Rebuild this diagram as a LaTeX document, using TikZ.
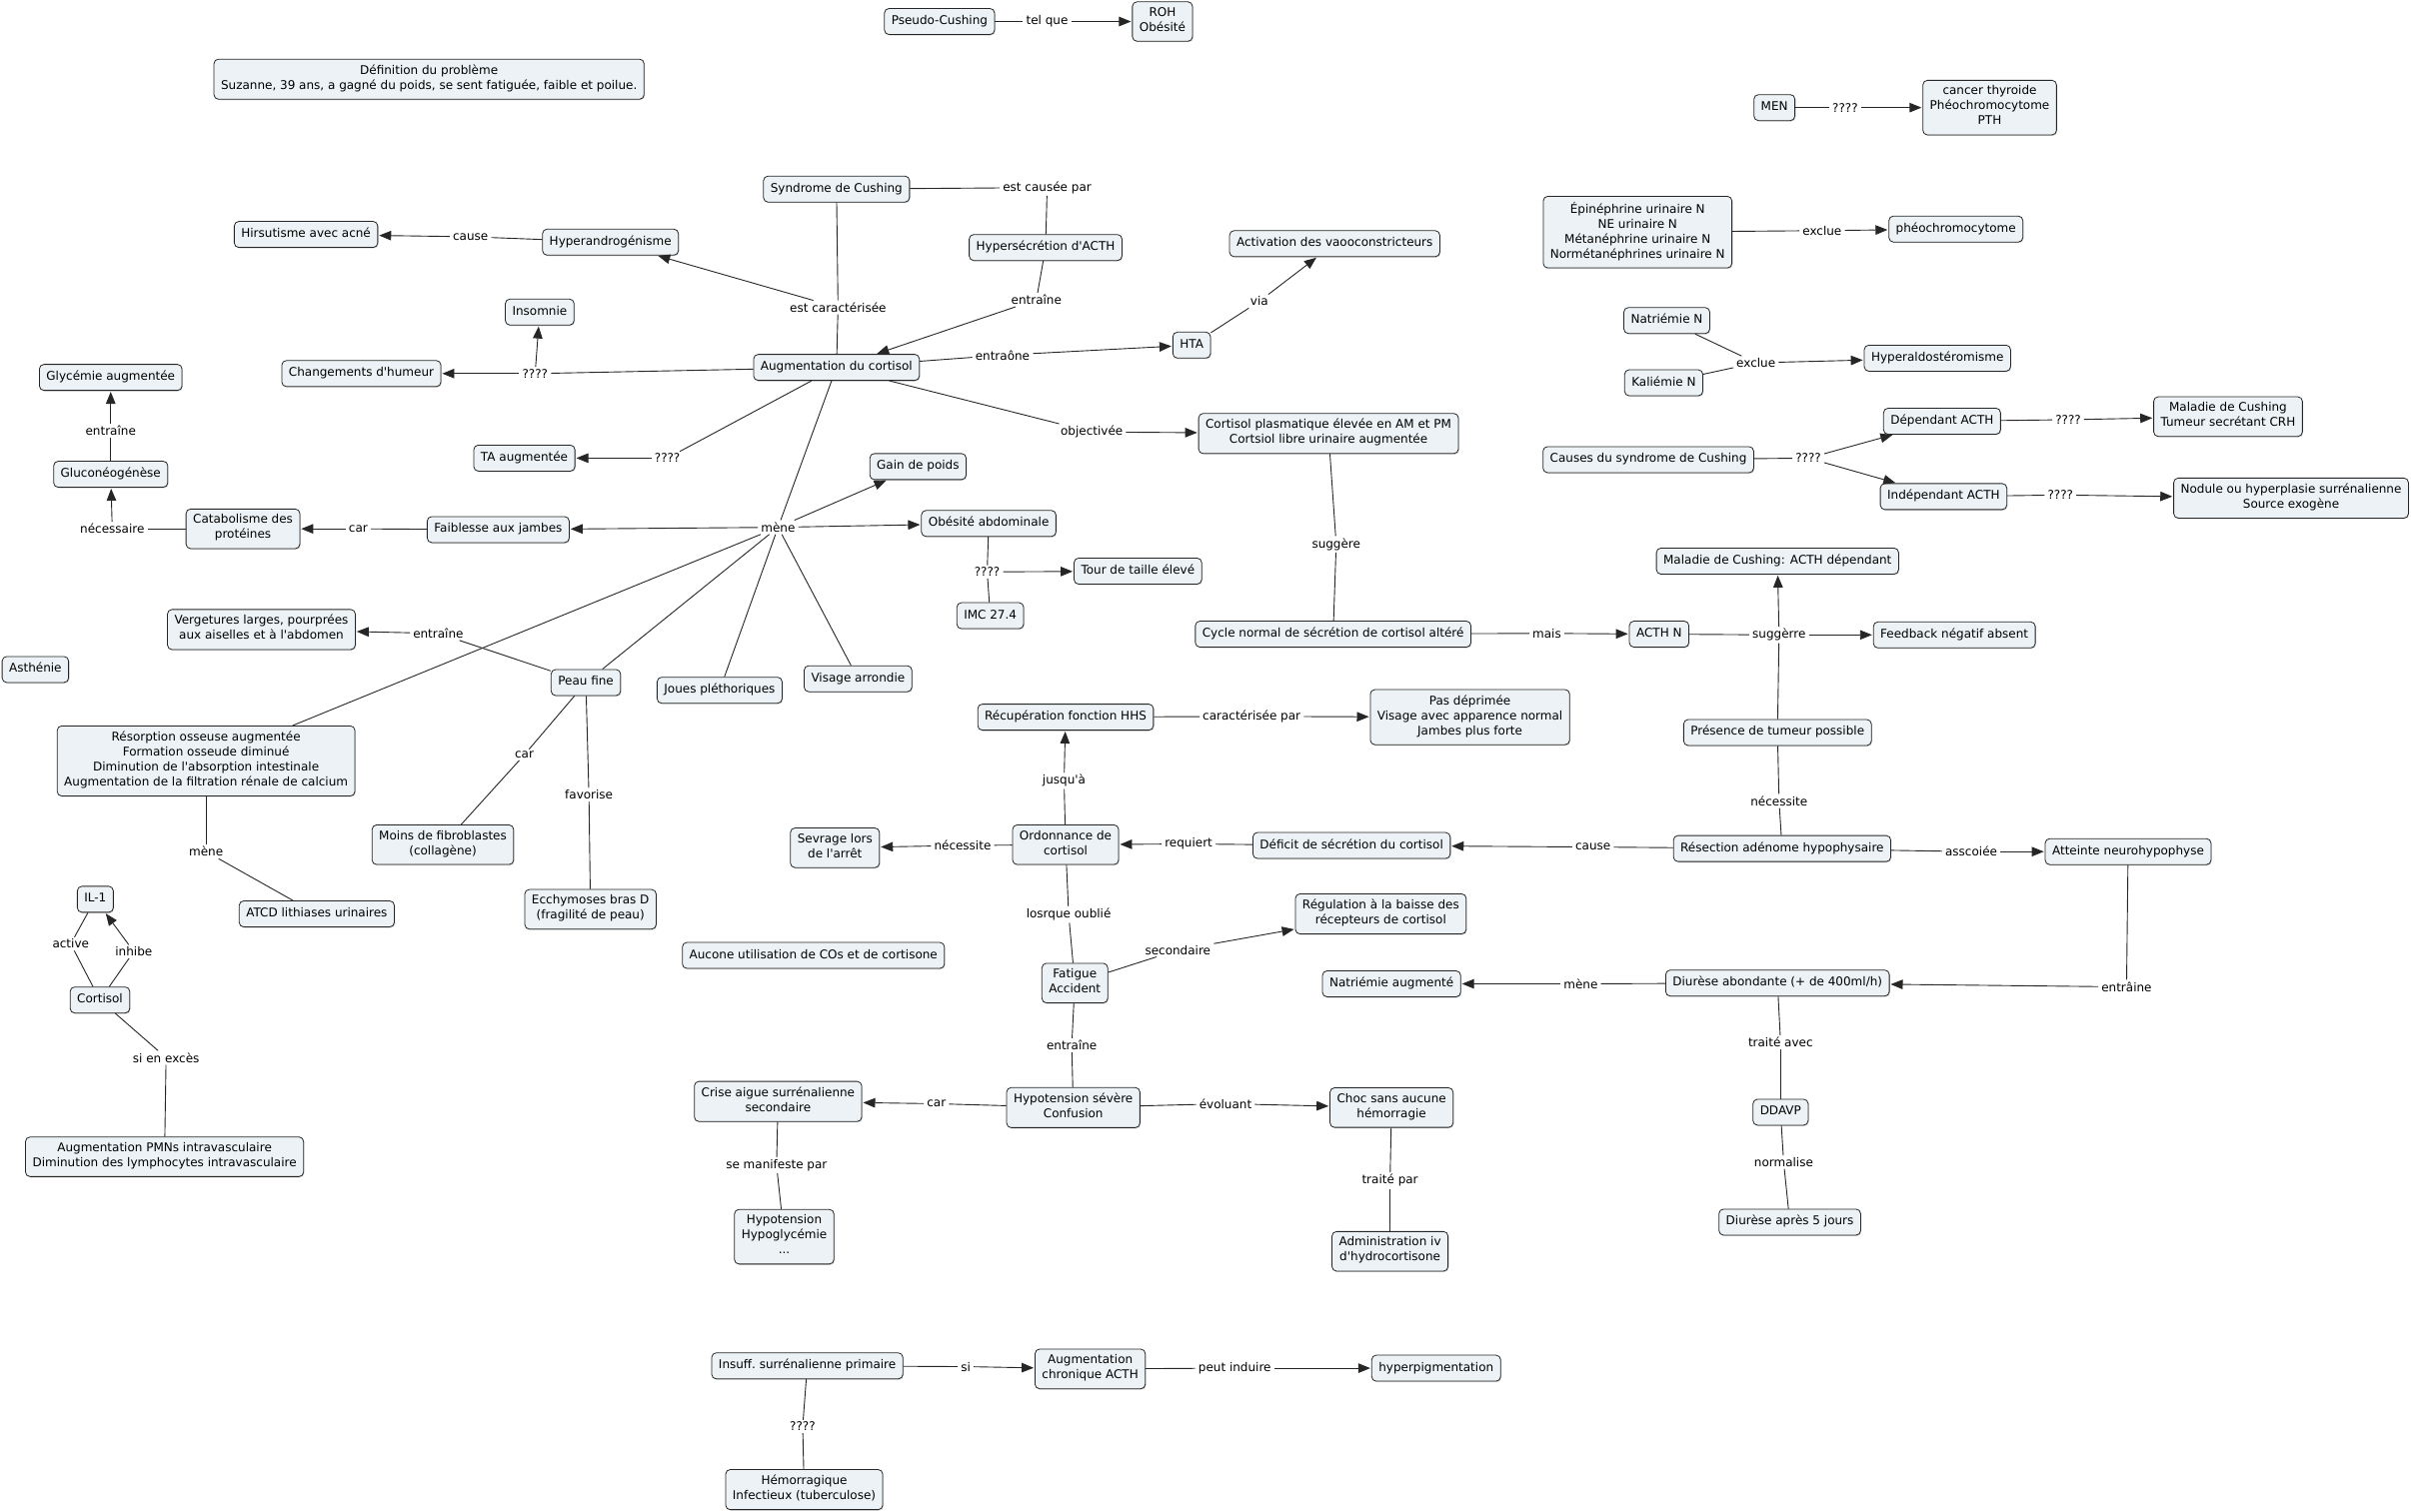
\documentclass[tikz,border=0pt]{standalone}
\usepackage{fontspec}
\newfontfamily\cmfont{DejaVu Sans}
\usetikzlibrary{arrows.meta,shadows}
\definecolor{boxfill}{RGB}{236,242,245}
\newcommand\ap{\textquotesingle}
\begin{document}
\begin{tikzpicture}[x=1.5383pt,y=-1.5383pt,
  concept/.style={draw=black!85, line width=0.8pt, rounded corners=4.5pt, fill=boxfill, align=center,
    inner xsep=7pt, inner ysep=5.5pt, font=\cmfont\fontsize{12}{15}\selectfont,
    execute at begin node=\strut, execute at end node=\strut,
    drop shadow={shadow xshift=0.8pt, shadow yshift=-1pt, opacity=0.35}},
  lbl/.style={fill=white, inner xsep=3pt, inner ysep=2pt, font=\cmfont\fontsize{12}{15}\selectfont},
  link/.style={draw=black!85, line width=0.9pt},
  arr/.style={link, -{Triangle[length=12pt,width=9.5pt]}, shorten >=1pt}]
\useasboundingbox (0,0) rectangle (1568,983.55);
\fill[white] (0,0) rectangle (1568,983.55);
% ---------- concepts ----------
\node[concept] (pseudo) at (611,14) {Pseudo-Cushing};
\node[concept] (roh) at (756,14) {ROH\\Obésité};
\node[concept] (def) at (279,51.5) {Définition du problème\\Suzanne, 39 ans, a gagné du poids, se sent fatiguée, faible et poilue.};
\node[concept] (men) at (1154,70) {MEN};
\node[concept] (cancer) at (1294,70) {cancer thyroide\\Phéochromocytome\\PTH};
\node[concept] (syn) at (544,123) {Syndrome de Cushing};
\node[concept] (hacth) at (680,161) {Hypersécrétion d\ap{}ACTH};
\node[concept] (hirs) at (199,152.5) {Hirsutisme avec acné};
\node[concept] (handro) at (397,157.5) {Hyperandrogénisme};
\node[concept] (activ) at (868,158.5) {Activation des vaooconstricteurs};
\node[concept] (insom) at (351,203) {Insomnie};
\node[concept] (glyc) at (72,245.5) {Glycémie augmentée};
\node[concept] (humeur) at (235,243) {Changements d\ap{}humeur};
\node[concept] (aug) at (544,239) {Augmentation du cortisol};
\node[concept] (hta) at (775,224.5) {HTA};
\node[concept] (gluco) at (72,308.5) {Gluconéogénèse};
\node[concept] (ta) at (341,298) {TA augmentée};
\node[concept] (cortplas) at (864,282) {Cortisol plasmatique élevée en AM et PM\\Cortsiol libre urinaire augmentée};
\node[concept] (gain) at (597,303.5) {Gain de poids};
\node[concept] (catab) at (158,344) {Catabolisme des\\protéines};
\node[concept] (faib) at (324,344.5) {Faiblesse aux jambes};
\node[concept] (obes) at (643,340.5) {Obésité abdominale};
\node[concept] (tour) at (740,371.5) {Tour de taille élevé};
\node[concept] (imc) at (644,400.5) {IMC 27.4};
\node[concept] (maladie) at (1156,365) {Maladie de Cushing: ACTH dépendant};
\node[concept] (dep) at (1263,274) {Dépendant ACTH};
\node[concept] (malcrh) at (1449,271) {Maladie de Cushing\\Tumeur secrétant CRH};
\node[concept] (causes) at (1072,299) {Causes du syndrome de Cushing};
\node[concept] (indep) at (1264,323) {Indépendant ACTH};
\node[concept] (nodule) at (1490,324) {Nodule ou hyperplasie surrénalienne\\Source exogène};
\node[concept] (epi) at (1065,151) {Épinéphrine urinaire N\\NE urinaire N\\Métanéphrine urinaire N\\Normétanéphrines urinaire N};
\node[concept] (pheo) at (1272,149) {phéochromocytome};
\node[concept] (natn) at (1084,208.5) {Natriémie N};
\node[concept] (kaln) at (1082,249) {Kaliémie N};
\node[concept] (aldo) at (1260,233) {Hyperaldostéromisme};
\node[concept] (verg) at (170,409.5) {Vergetures larges, pourprées\\aux aiselles et à l\ap{}abdomen};
\node[concept] (peau) at (381,444) {Peau fine};
\node[concept] (joues) at (468,449) {Joues pléthoriques};
\node[concept] (visage) at (558,441.5) {Visage arrondie};
\node[concept] (asth) at (23,435.5) {Asthénie};
\node[concept] (cycle) at (867,412.5) {Cycle normal de sécrétion de cortisol altéré};
\node[concept] (acthn) at (1079,412.5) {ACTH N};
\node[concept] (feedback) at (1271,413) {Feedback négatif absent};
\node[concept] (recup) at (693,466.5) {Récupération fonction HHS};
\node[concept] (pasdep) at (956,466.5) {Pas déprimée\\Visage avec apparence normal\\Jambes plus forte};
\node[concept] (tumeur) at (1156,476.5) {Présence de tumeur possible};
\node[concept] (resorp) at (134,495) {Résorption osseuse augmentée\\Formation osseude diminué\\Diminution de l\ap{}absorption intestinale\\Augmentation de la filtration rénale de calcium};
\node[concept] (fibro) at (288,549.5) {Moins de fibroblastes\\(collagène)};
\node[concept] (ecchy) at (384,591.5) {Ecchymoses bras D\\(fragilité de peau)};
\node[concept] (atcd) at (206,594.5) {ATCD lithiases urinaires};
\node[concept] (sevrage) at (543,551.5) {Sevrage lors\\de l\ap{}arrêt};
\node[concept] (ordo) at (693,549.5) {Ordonnance de\\cortisol};
\node[concept] (deficit) at (879,550) {Déficit de sécrétion du cortisol};
\node[concept] (resec) at (1159,552) {Résection adénome hypophysaire};
\node[concept] (atteinte) at (1384,554) {Atteinte neurohypophyse};
\node[concept] (il1) at (62,585) {IL-1};
\node[concept] (aucone) at (529,621.5) {Aucone utilisation de COs et de cortisone};
\node[concept] (regul) at (898,594.5) {Régulation à la baisse des\\récepteurs de cortisol};
\node[concept] (fatigue) at (699,639.5) {Fatigue\\Accident};
\node[concept] (cortisol) at (65,650.5) {Cortisol};
\node[concept] (natraug) at (905,640) {Natriémie augmenté};
\node[concept] (diurese) at (1156,639.5) {Diurèse abondante (+ de 400ml/h)};
\node[concept] (pmn) at (107,752.5) {Augmentation PMNs intravasculaire\\Diminution des lymphocytes intravasculaire};
\node[concept] (crise) at (506,716.5) {Crise aigue surrénalienne\\secondaire};
\node[concept] (hypot) at (698,720.5) {Hypotension sévère\\Confusion};
\node[concept] (choc) at (905,720.5) {Choc sans aucune\\hémorragie};
\node[concept] (ddavp) at (1158,723.5) {DDAVP};
\node[concept] (hypogly) at (510,804.5) {Hypotension\\Hypoglycémie\\...};
\node[concept] (admin) at (904,814) {Administration iv\\d\ap{}hydrocortisone};
\node[concept] (diur5) at (1164,795) {Diurèse après 5 jours};
\node[concept] (insuff) at (525,888.5) {Insuff.\ surrénalienne primaire};
\node[concept] (augchr) at (709,890.5) {Augmentation\\chronique ACTH};
\node[concept] (hyperpig) at (934,890) {hyperpigmentation};
\node[concept] (hemo) at (523,969) {Hémorragique\\Infectieux (tuberculose)};
% ---------- linking phrases ----------
\node[lbl] (ltelque) at (681,14) {tel que};
\node[lbl] (lmen) at (1200,70) {????};
\node[lbl] (lcausee) at (681,122) {est causée par};
\node[lbl] (lcaract) at (545,200) {est caractérisée};
\node[lbl] (lentr1) at (674,195) {entraîne};
\node[lbl] (lcause1) at (306,154) {cause};
\node[lbl] (lvia) at (819,196) {via};
\node[lbl] (lentraone) at (652,231) {entraône};
\node[lbl] (lqhum) at (348,243) {????};
\node[lbl] (lentrglyc) at (72,280) {entraîne};
\node[lbl] (lqta) at (434,298) {????};
\node[lbl] (lobj) at (710,281) {objectivée};
\node[lbl] (lexcl1) at (1185,150) {exclue};
\node[lbl] (lexcl2) at (1142,236) {exclue};
\node[lbl] (lqcauses) at (1176,298) {????};
\node[lbl] (lqdep) at (1345,273) {????};
\node[lbl] (lqindep) at (1340,322) {????};
\node[lbl] (lneces) at (73,344) {nécessaire};
\node[lbl] (lcar1) at (233,344) {car};
\node[lbl] (lmene) at (506,343) {mène};
\node[lbl] (lqobes) at (642,372) {????};
\node[lbl] (lsugg) at (869,354) {suggère};
\node[lbl] (lentrverg) at (285,412) {entraîne};
\node[lbl] (lmais) at (1006,412) {mais};
\node[lbl] (lsuggerre) at (1157,413) {suggèrre};
\node[lbl] (lcaractpar) at (814,466) {caractérisée par};
\node[lbl] (lcar2) at (341,491) {car};
\node[lbl] (ljusqua) at (692,508) {jusqu\ap{}à};
\node[lbl] (lfavorise) at (383,517) {favorise};
\node[lbl] (lnecessite2) at (1157,521) {nécessite};
\node[lbl] (lnecessite1) at (626,550) {nécessite};
\node[lbl] (lrequiert) at (773,549) {requiert};
\node[lbl] (lcause2) at (1036,551) {cause};
\node[lbl] (lasscoiee) at (1282,554) {asscoiée};
\node[lbl] (lmene2) at (134,554) {mène};
\node[lbl] (llorsque) at (695,595) {losrque oublié};
\node[lbl] (lactive) at (46,614) {active};
\node[lbl] (linhibe) at (87,619) {inhibe};
\node[lbl] (lsecond) at (766,618) {secondaire};
\node[lbl] (lentraine3) at (1383,642) {entrâine};
\node[lbl] (lmene3) at (1028,640) {mène};
\node[lbl] (ltraiteavec) at (1158,678) {traité avec};
\node[lbl] (lentr4) at (697,680) {entraîne};
\node[lbl] (lsiexces) at (108,688) {si en excès};
\node[lbl] (lcar3) at (609,718) {car};
\node[lbl] (levol) at (797,718) {évoluant};
\node[lbl] (lnormalise) at (1160,756) {normalise};
\node[lbl] (lmanif) at (505,758) {se manifeste par};
\node[lbl] (ltraitepar) at (904,768) {traité par};
\node[lbl] (lsi) at (628,889) {si};
\node[lbl] (lpeutind) at (803,890) {peut induire};
\node[lbl] (lqinsuff) at (522,928) {????};
% ---------- connectors ----------
\draw[link] (pseudo) -- (ltelque); \draw[arr] (ltelque) -- (roh);
\draw[link] (men) -- (lmen); \draw[arr] (lmen) -- (cancer);
\draw[link] (syn) -- (lcausee); \draw[link] (lcausee) -- (hacth);
\draw[link] (hacth) -- (lentr1); \draw[arr] (lentr1) -- (aug);
\draw[link] (syn) -- (lcaract); \draw[link] (lcaract) -- (aug); \draw[arr] (lcaract) -- (handro);
\draw[link] (handro) -- (lcause1); \draw[arr] (lcause1) -- (hirs);
\draw[link] (aug) -- (lentraone); \draw[arr] (lentraone) -- (hta);
\draw[link] (hta) -- (lvia); \draw[arr] (lvia) -- (activ);
\draw[link] (aug) -- (lqhum); \draw[arr] (lqhum) -- (humeur); \draw[arr] (lqhum) -- (insom);
\draw[link] (gluco) -- (lentrglyc); \draw[arr] (lentrglyc) -- (glyc);
\draw[link] (aug) -- (lqta); \draw[arr] (lqta) -- (ta);
\draw[link] (aug) -- (lobj); \draw[arr] (lobj) -- (cortplas);
\draw[link] (epi) -- (lexcl1); \draw[arr] (lexcl1) -- (pheo);
\draw[link] (natn) -- (lexcl2); \draw[link] (kaln) -- (lexcl2); \draw[arr] (lexcl2) -- (aldo);
\draw[link] (causes) -- (lqcauses); \draw[arr] (lqcauses) -- (dep); \draw[arr] (lqcauses) -- (indep);
\draw[link] (dep) -- (lqdep); \draw[arr] (lqdep) -- (malcrh);
\draw[link] (indep) -- (lqindep); \draw[arr] (lqindep) -- (nodule);
\draw[link] (catab) -- (lneces); \draw[arr] (lneces) -- (gluco);
\draw[link] (faib) -- (lcar1); \draw[arr] (lcar1) -- (catab);
\draw[link] (aug) -- (lmene);
\draw[arr] (lmene) -- (faib); \draw[arr] (lmene) -- (gain); \draw[arr] (lmene) -- (obes);
\draw[link] (lmene) -- (resorp); \draw[link] (lmene) -- (peau); \draw[link] (lmene) -- (joues); \draw[link] (lmene) -- (visage);
\draw[link] (obes) -- (lqobes); \draw[link] (imc) -- (lqobes); \draw[arr] (lqobes) -- (tour);
\draw[link] (cortplas) -- (lsugg); \draw[link] (lsugg) -- (cycle);
\draw[link] (peau) -- (lentrverg); \draw[arr] (lentrverg) -- (verg);
\draw[link] (cycle) -- (lmais); \draw[arr] (lmais) -- (acthn);
\draw[link] (acthn) -- (lsuggerre); \draw[arr] (lsuggerre) -- (feedback); \draw[arr] (lsuggerre) -- (maladie);
\draw[link] (tumeur) -- (lsuggerre);
\draw[link] (recup) -- (lcaractpar); \draw[arr] (lcaractpar) -- (pasdep);
\draw[link] (peau) -- (lcar2); \draw[link] (lcar2) -- (fibro);
\draw[link] (peau) -- (lfavorise); \draw[link] (lfavorise) -- (ecchy);
\draw[link] (ordo) -- (ljusqua); \draw[arr] (ljusqua) -- (recup);
\draw[link] (tumeur) -- (lnecessite2); \draw[link] (lnecessite2) -- (resec);
\draw[link] (ordo) -- (lnecessite1); \draw[arr] (lnecessite1) -- (sevrage);
\draw[link] (deficit) -- (lrequiert); \draw[arr] (lrequiert) -- (ordo);
\draw[link] (resec) -- (lcause2); \draw[arr] (lcause2) -- (deficit);
\draw[link] (resec) -- (lasscoiee); \draw[arr] (lasscoiee) -- (atteinte);
\draw[link] (resorp) -- (lmene2); \draw[link] (lmene2) -- (atcd);
\draw[link] (ordo) -- (llorsque); \draw[link] (llorsque) -- (fatigue);
\draw[link] (cortisol) -- (lactive); \draw[link] (lactive) -- (il1);
\draw[link] (cortisol) -- (linhibe); \draw[arr] (linhibe) -- (il1);
\draw[link] (fatigue) -- (lsecond); \draw[arr] (lsecond) -- (regul);
\draw[link] (atteinte) -- (lentraine3); \draw[arr] (lentraine3) -- (diurese);
\draw[link] (diurese) -- (lmene3); \draw[arr] (lmene3) -- (natraug);
\draw[link] (diurese) -- (ltraiteavec); \draw[link] (ltraiteavec) -- (ddavp);
\draw[link] (fatigue) -- (lentr4); \draw[link] (lentr4) -- (hypot);
\draw[link] (cortisol) -- (lsiexces); \draw[link] (lsiexces) -- (pmn);
\draw[link] (hypot) -- (lcar3); \draw[arr] (lcar3) -- (crise);
\draw[link] (hypot) -- (levol); \draw[arr] (levol) -- (choc);
\draw[link] (ddavp) -- (lnormalise); \draw[link] (lnormalise) -- (diur5);
\draw[link] (crise) -- (lmanif); \draw[link] (lmanif) -- (hypogly);
\draw[link] (choc) -- (ltraitepar); \draw[link] (ltraitepar) -- (admin);
\draw[link] (insuff) -- (lsi); \draw[arr] (lsi) -- (augchr);
\draw[link] (augchr) -- (lpeutind); \draw[arr] (lpeutind) -- (hyperpig);
\draw[link] (insuff) -- (lqinsuff); \draw[link] (lqinsuff) -- (hemo);
\end{tikzpicture}
\end{document}
